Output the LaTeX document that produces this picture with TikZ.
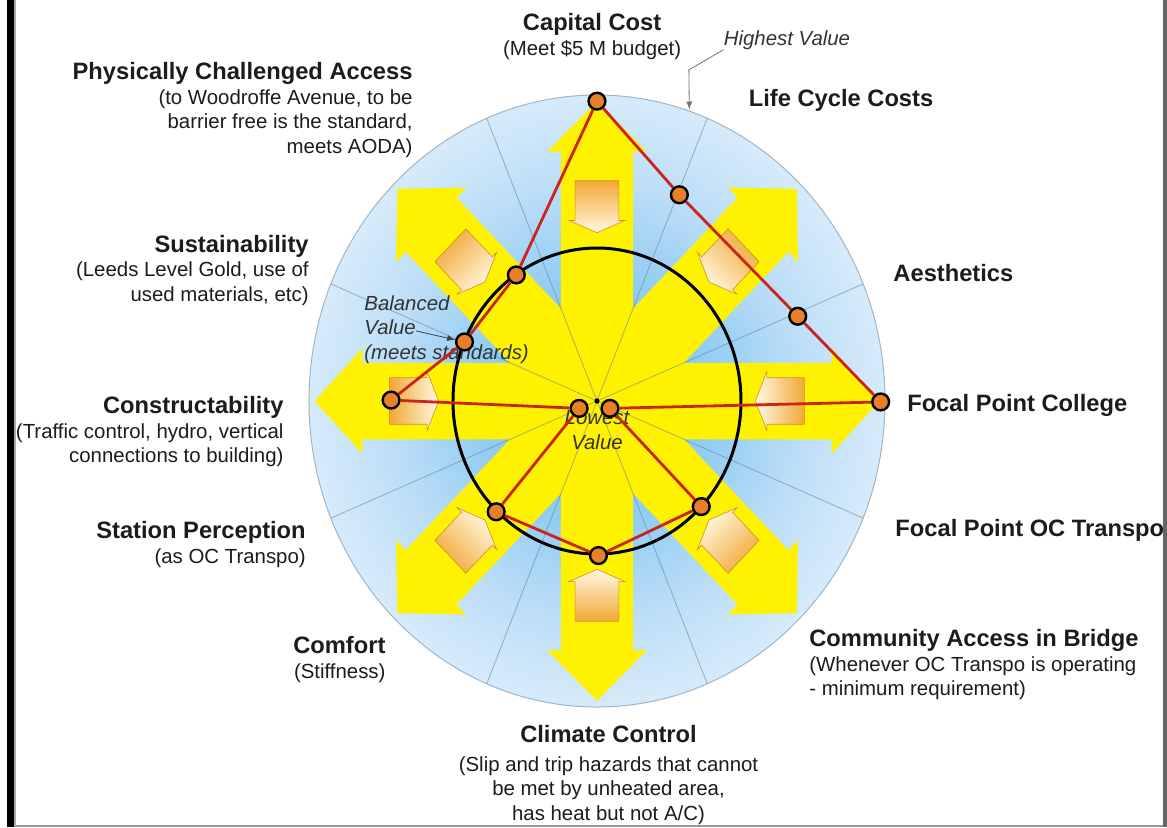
\documentclass[tikz,border=0pt]{standalone}
\usepackage{fontspec}
\setmainfont{Liberation Sans}
\usetikzlibrary{arrows}

\definecolor{arrowyellow}{RGB}{255,242,0}
\definecolor{rimblue}{RGB}{160,182,200}
\definecolor{spokegray}{RGB}{95,125,150}
\definecolor{dotorange}{RGB}{232,128,42}
\definecolor{polyred}{RGB}{200,38,28}
\definecolor{tagorange}{RGB}{242,168,52}
\definecolor{tagcream}{RGB}{255,248,226}
\definecolor{inkgray}{RGB}{28,28,28}
\pgfdeclareradialshading{discglow}{\pgfpoint{0bp}{0bp}}{rgb(0bp)=(0.50,0.76,0.93); rgb(10bp)=(0.57,0.80,0.95); rgb(18bp)=(0.74,0.87,0.97); rgb(25bp)=(0.84,0.92,0.98); rgb(50bp)=(0.84,0.92,0.98)}
\newcommand{\crithead}[1]{{\bfseries\fontsize{11.85}{12.25}\selectfont #1}}

\begin{document}
\begin{tikzpicture}[x=14.4pt,y=14.4pt,yscale=1.0625,
  bigarrow/.style={fill=arrowyellow},
  tagarrow/.style={draw=tagorange!85!black,line width=0.3pt,top color=tagorange,bottom color=tagcream},
  spoke/.style={spokegray,line width=0.4pt,opacity=0.55},
  ring/.style={line width=1.5pt},
  polyline/.style={polyred,line width=1.4pt},
  valuedot/.style={circle,fill=dotorange,draw=black,line width=1.2pt,minimum size=8.4pt,inner sep=0pt},
  crit/.style={inner sep=0pt,text=inkgray,font=\fontsize{10.2}{12.25}\selectfont},
  notetext/.style={inner sep=0pt,text=black!80,font=\fontsize{10.2}{12.25}\selectfont\itshape},
  leader/.style={->,>=latex,black!55,line width=0.4pt}]
\fill[white] (-20.729,-13.922) rectangle (19.792,13.105);
\useasboundingbox (-20.729,-13.922) rectangle (19.792,13.105);

% value disc
\shade[shading=discglow] (0,0) circle[radius=10];
\draw[rimblue,line width=0.5pt] (0,0) circle[radius=10];
\foreach \a in {0,45,...,315}
  \fill[bigarrow,rotate=\a] (0,-1.25) -- (8.15,-1.25) -- (8.15,-1.72) -- (9.8,0) -- (8.15,1.72) -- (8.15,1.25) -- (0,1.25) -- cycle;
\foreach \a in {22.5,67.5,112.5,157.5,202.5,247.5,292.5,337.5}
  \draw[spoke] (0,0) -- (\a:10);
\foreach \a/\s in {0/-90,45/-45,90/0,135/45,180/90,225/135,270/180,315/225}
  \shadedraw[tagarrow,shading angle=\s,rotate=\a] (7.2,-0.76) -- (5.9,-0.76) -- (5.9,-0.97) -- (5.5,0) -- (5.9,0.97) -- (5.9,0.76) -- (7.2,0.76) -- cycle;
\draw[ring] (0,0) circle[radius=5];

\node[notetext,anchor=north,align=center] (lownote) at (0,-0.31) {Lowest\\Value};
\node[notetext,anchor=north west,align=left] (balnote) at (-8.09,3.46) {Balanced\\Value\\(meets standards)};

% scores
\node[valuedot] (cc) at (0,9.8) {};
\node[valuedot] (lc) at (2.86,6.74) {};
\node[valuedot] (ae) at (6.97,2.77) {};
\node[valuedot] (fpc) at (9.85,-0.03) {};
\node[valuedot] (lowr) at (0.45,-0.24) {};
\node[valuedot] (se) at (3.62,-3.45) {};
\node[valuedot] (cl) at (0.05,-5.05) {};
\node[valuedot] (sw) at (-3.5,-3.62) {};
\node[valuedot] (lowl) at (-0.62,-0.24) {};
\node[valuedot] (con) at (-7.15,0.03) {};
\node[valuedot] (bal) at (-4.6,1.93) {};
\node[valuedot] (sus) at (-2.8,4.12) {};
\draw[polyline] (cc) -- (lc) -- (ae) -- (fpc) -- (lowr) -- (se) -- (cl) -- (sw) -- (lowl) -- (con) -- (bal) -- (sus) -- (cc);
\fill (0,0) circle[radius=0.09];

\coordinate (bvtail) at (-6.28,2.29);
\draw[leader,black!75] (bvtail) -- (bal);

% criteria
\node[crit,anchor=north,align=center] (capcost) at (-0.17,12.67) {\crithead{Capital Cost}\\(Meet \$5 M budget)};
\node[notetext,anchor=west] (hival) at (4.39,11.80) {Highest Value};
\coordinate (hvbend) at (3.19,10.82);
\coordinate (hvtip) at (71.4:10.05);
\draw[leader] (hival.south west) -- (hvbend) -- (hvtip);
\node[crit,anchor=north east,align=right] (access) at (-6.39,11.07) {\crithead{Physically Challenged Access}\\(to Woodroffe Avenue, to be\\barrier free is the standard,\\meets AODA)};
\node[crit,anchor=west] (lifecycle) at (5.26,9.84) {\crithead{Life Cycle Costs}};
\node[crit,anchor=north east,align=right] (sustain) at (-10.0,5.43) {\crithead{Sustainability}\\(Leeds Level Gold, use of\\used materials, etc)};
\node[crit,anchor=west] (aesth) at (10.28,4.18) {\crithead{Aesthetics}};
\node[crit,anchor=north east,align=right] (construct) at (-10.87,0.16) {\crithead{Constructability}\\(Traffic control, hydro, vertical\\connections to building)};
\node[crit,anchor=west] (college) at (10.76,-0.16) {\crithead{Focal Point College}};
\node[crit,anchor=north east,align=right] (station) at (-10.10,-3.93) {\crithead{Station Perception}\\(as OC Transpo)};
\node[crit,anchor=west] (octranspo) at (10.35,-4.22) {\crithead{Focal Point OC Transpo}};
\node[crit,anchor=north east,align=right] (comfort) at (-7.33,-7.69) {\crithead{Comfort}\\(Stiffness)};
\node[crit,anchor=north west,align=left] (community) at (7.36,-7.46) {\crithead{Community Access in Bridge}\\(Whenever OC Transpo is operating\\- minimum requirement)};
\node[crit,anchor=north,align=center] (climate) at (0.40,-10.60) {\crithead{Climate Control}\\[1.8pt](Slip and trip hazards that cannot\\be met by unheated area,\\has heat but not A/C)};

% frame
\fill (-20.486,-13.922) rectangle (-20.243,13.105);
\fill[black!35] (-20.243,-13.922) rectangle (-20.174,13.105);
\fill[black!60] (19.653,-13.922) rectangle (19.792,13.105);
\fill[black!40] (-20.174,-13.922) rectangle (19.653,-13.856);
\end{tikzpicture}
\end{document}
